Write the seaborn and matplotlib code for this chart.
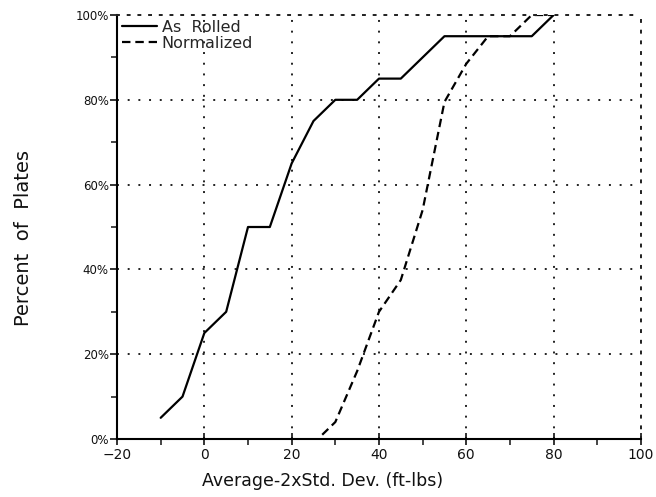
import matplotlib
matplotlib.use("Agg")
import matplotlib.pyplot as plt
import seaborn as sns
import pandas as pd
from matplotlib.ticker import MultipleLocator, FuncFormatter

# Cumulative distribution of plate toughness (Average - 2 x Std. Dev.)
as_rolled_x = [-10, -5, 0, 5, 10, 15, 20, 25, 30, 35, 40, 45, 55, 75, 80]
as_rolled_y = [5, 10, 25, 30, 50, 50, 65, 75, 80, 80, 85, 85, 95, 95, 100]

normalized_x = [27, 30, 35, 40, 45, 50, 55, 60, 65, 70, 75, 80]
normalized_y = [1, 4, 16, 30, 37.5, 54, 79.5, 88.5, 95, 95, 100, 100]

series_names = ["As  Rolled", "Normalized"]

df = pd.concat([
    pd.DataFrame({"x": as_rolled_x, "y": as_rolled_y, "series": series_names[0]}),
    pd.DataFrame({"x": normalized_x, "y": normalized_y, "series": series_names[1]}),
])

sns.set_theme(style="white")
plt.rcParams["font.family"] = ["DejaVu Sans"]

fig = plt.figure(figsize=(6.56, 4.97), dpi=100)
ax = fig.add_axes([0.1784, 0.1167, 0.7986, 0.8531])

sns.lineplot(
    data=df, x="x", y="y", style="series", color="black",
    dashes={series_names[0]: "", series_names[1]: (3.8, 2.2)},
    linewidth=1.6, sort=False, ax=ax, legend=True,
)

ax.set_xlim(-20, 100)
ax.set_ylim(0, 100)

ax.xaxis.set_major_locator(MultipleLocator(20))
ax.xaxis.set_minor_locator(MultipleLocator(10))
ax.yaxis.set_major_locator(MultipleLocator(20))
ax.yaxis.set_minor_locator(MultipleLocator(10))
ax.yaxis.set_major_formatter(FuncFormatter(lambda v, p: f"{int(v)}%"))

ax.tick_params(axis="x", which="major", direction="inout", length=9, width=1.2,
               labelsize=10, pad=2, colors="#111111", bottom=True)
ax.tick_params(axis="x", which="minor", direction="out", length=4, width=1.2,
               bottom=True)
ax.tick_params(axis="y", which="major", direction="out", length=5, width=1.2,
               labelsize=8.5, pad=1, colors="#111111", left=True)
ax.tick_params(axis="y", which="minor", direction="out", length=4, width=1.2,
               left=True)

ax.grid(True, which="major", color="#222222", linestyle=(0, (1, 4.5)), linewidth=1.4)

for side in ["left", "bottom"]:
    ax.spines[side].set_color("black")
    ax.spines[side].set_linewidth(1.5)
for side in ["top", "right"]:
    ax.spines[side].set_color("#222222")
    ax.spines[side].set_linestyle((0, (1, 4.5)))
    ax.spines[side].set_linewidth(1.4)

ax.set_xlabel("Average-2xStd. Dev. (ft-lbs)", fontsize=12.5, color="#111111")
ax.xaxis.set_label_coords(0.393, -0.077)
ax.set_ylabel("Percent  of  Plates", fontsize=14, color="#111111")
ax.yaxis.set_label_coords(-0.161, 0.475)

leg = ax.legend(loc="upper left", frameon=False, fontsize=11.5, handlelength=2.2,
                handletextpad=0.3, labelspacing=0.05, borderaxespad=0.2,
                borderpad=0.1)
for line in leg.get_lines():
    line.set_linewidth(1.6)

fig.savefig("out.png", dpi=100)
